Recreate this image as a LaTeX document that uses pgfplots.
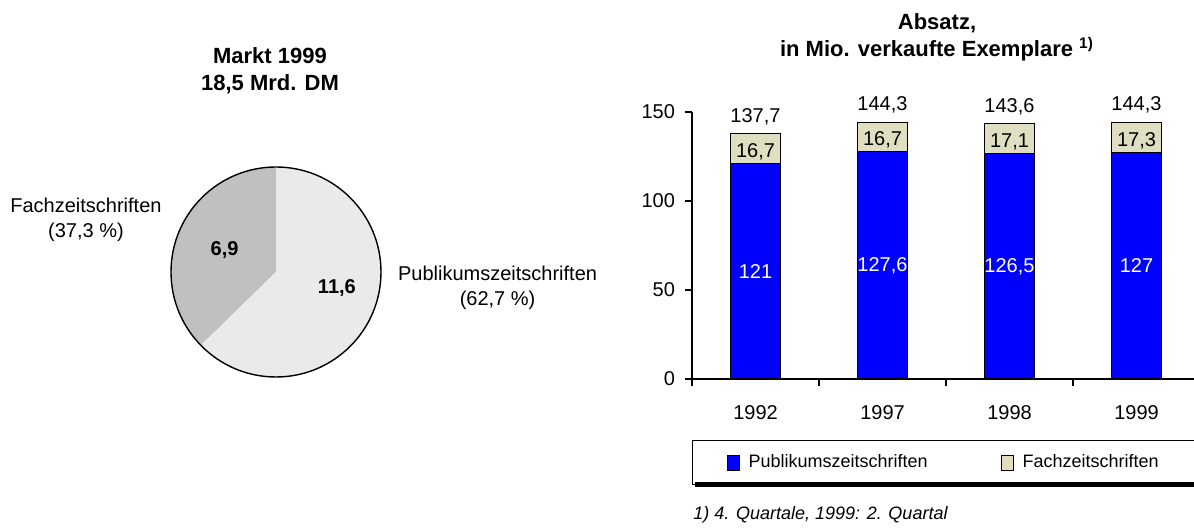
\documentclass[border=0pt]{standalone}
\usepackage{pgfplots}
\pgfplotsset{compat=1.18}
\usepackage{pgfplotstable}
\usepackage{fontspec}
\setmainfont{Liberation Sans}

\definecolor{publblue}{RGB}{0,0,255}
\definecolor{fachbeige}{RGB}{224,222,192}
\definecolor{piedark}{RGB}{192,192,192}
\definecolor{pielight}{RGB}{234,234,234}

\pgfkeys{/pgf/number format/assume math mode=true}
\pgfplotsset{sqlegend/.style={legend image code/.code={%
  \draw[##1, line width=0.5pt] (0pt,-3.75pt) rectangle (6pt,3.75pt);}}}

% Absatz in Mio. verkaufte Exemplare
\pgfplotstableread{
x publ fach total
0 121   16.7 137.7
1 127.6 16.7 144.3
2 126.5 17.1 143.6
3 127   17.3 144.3
}\absatz

% Markt 1999, Mrd. DM
\newcommand\pieFach{6.9}
\newcommand\piePubl{11.6}

\begin{document}
\begin{tikzpicture}
\path[use as bounding box] (0,0) rectangle (597pt,264pt);

\pgfmathsetmacro\angF{90+360*\pieFach/(\pieFach+\piePubl)}

% pie chart
\begin{axis}[at={(138pt,128pt)}, anchor=center, scale only axis,
  width=126pt, height=126pt, xmin=-1.2, xmax=1.2, ymin=-1.2, ymax=1.2,
  hide axis, clip=false]
\fill[piedark] (axis cs:0,0) -- (axis cs:0,1)
  arc[start angle=90, end angle=\angF, radius=1] -- cycle;
\fill[pielight] (axis cs:0,0) -- (axis cs:{cos(\angF)},{sin(\angF)})
  arc[start angle=\angF, end angle=450, radius=1] -- cycle;
\draw[black, line width=0.7pt] (axis cs:0,0) circle[radius=1];
\node[font=\bfseries] at (axis cs:-0.49,0.21) {6,9};
\node[font=\bfseries] at (axis cs:0.58,-0.15) {11,6};
\node[align=center, font=\fontsize{10}{12.5}\selectfont] at (axis cs:-1.81,0.5) {Fachzeitschriften\\(37,3 \%)};
\node[align=center, font=\fontsize{10}{12.5}\selectfont] at (axis cs:2.11,-0.15) {Publikumszeitschriften\\(62,7 \%)};
\end{axis}

\node[align=center, font=\bfseries\fontsize{11}{13.5}\selectfont] at (135pt,228.6pt) {Markt 1999\\18,5 Mrd. DM};
\node[align=center, font=\bfseries\fontsize{11}{13.5}\selectfont] at (468.5pt,245.5pt) {Absatz,\\in Mio. verkaufte Exemplare \textsuperscript{1)}};
\node[anchor=west, font=\itshape\fontsize{9}{11}\selectfont, inner sep=0pt] at (346.5pt,6.5pt) {1) 4. Quartale, 1999: 2. Quartal};

% stacked bars
\begin{axis}[name=bars, at={(346pt,74.5pt)}, anchor=south west, scale only axis,
  width=254pt, height=133.5pt,
  ybar stacked, bar width=0.4,
  xmin=-0.5, xmax=3.5, ymin=0, ymax=150, enlargelimits=false,
  axis x line=bottom, axis y line=left,
  axis line style={-, line width=0.8pt},
  xtick={0,1,2,3}, xticklabels={1992,1997,1998,1999},
  major x tick style={draw=none},
  minor xtick={-0.5,0.5,1.5,2.5},
  ytick={0,50,100,150},
  tick align=outside, major tick length=3.5pt, minor tick length=3.5pt,
  tick style={black, line width=0.6pt},
  xticklabel style={yshift=-6pt},
  yticklabel style={xshift=-1.5pt},
  clip=false,
  legend columns=2,
  legend style={at={(0,-0.2285)}, anchor=north west, draw=black, line width=0.5pt,
    fill=white, inner xsep=17pt, inner ysep=5pt, font=\fontsize{9}{11}\selectfont,
    /tikz/every odd column/.append style={column sep=2.5pt}},
]
\addplot[fill=publblue, draw=black, line width=0.5pt, sqlegend]
  table[x=x, y=publ] {\absatz};
\addlegendentry{\makebox[124pt][l]{Publikumszeitschriften}}
\addplot[fill=fachbeige, draw=black, line width=0.5pt, sqlegend]
  table[x=x, y=fach] {\absatz};
\addlegendentry{\makebox[90pt][l]{Fachzeitschriften}}
\end{axis}

% value labels
\begin{axis}[at={(346pt,74.5pt)}, anchor=south west, scale only axis,
  width=254pt, height=133.5pt,
  xmin=-0.5, xmax=3.5, ymin=0, ymax=150, enlargelimits=false,
  hide axis, clip=false,
  nodes near coords={\pgfmathprintnumber[use comma,fixed,precision=1]{\pgfplotspointmeta}},
  every node near coord/.append style={anchor=center, font=\fontsize{10}{12}\selectfont},
]
\addplot[draw=none, mark=none, point meta=explicit,
  every node near coord/.append style={white}]
  table[x=x, y expr=\thisrow{publ}/2, meta=publ] {\absatz};
\addplot[draw=none, mark=none, point meta=explicit,
  every node near coord/.append style={black, yshift=-1.5pt}]
  table[x=x, y expr=\thisrow{publ}+\thisrow{fach}/2, meta=fach] {\absatz};
\addplot[draw=none, mark=none, point meta=explicit,
  every node near coord/.append style={black, yshift=8.5pt}]
  table[x=x, y=total, meta=total] {\absatz};
\end{axis}

% shadow under the legend box
\fill[black] (347.5pt,20.3pt) rectangle (610pt,22.8pt);
\end{tikzpicture}
\end{document}
